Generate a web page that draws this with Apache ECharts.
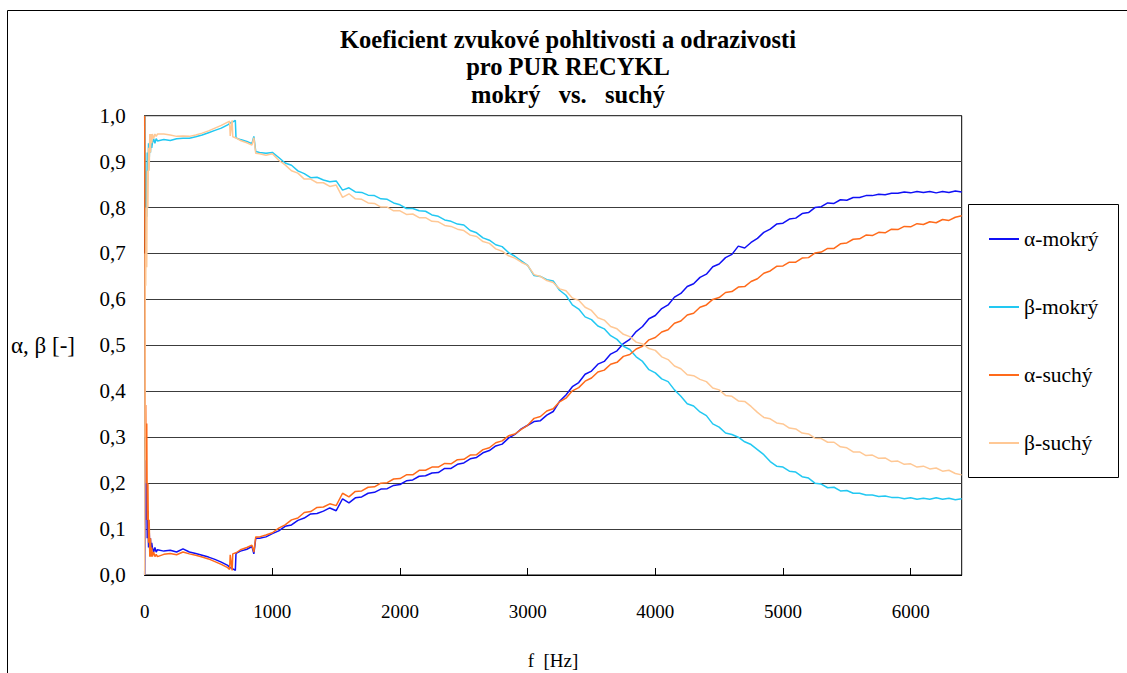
<!DOCTYPE html>
<html>
<head>
<meta charset="utf-8">
<script src="https://cdn.jsdelivr.net/npm/echarts@6/dist/echarts.min.js"></script>
<style>
  html, body { margin: 0; padding: 0; background: #fff; }
  #chart { width: 1127px; height: 673px; }
</style>
</head>
<body>
<div id="chart"></div>
<script>
// Frequency grid [Hz]
const freq = [
  0, 4, 8, 12, 16, 20, 25, 30, 35, 40, 45, 50, 55, 60, 70, 80, 90, 100,
  150, 200, 250, 300, 350, 400, 450, 500, 550, 600, 650,
  665, 670, 685, 690, 700, 710, 715, 720, 750, 800, 840, 855, 870, 900, 950, 1000,
  1050, 1100, 1150, 1200, 1250, 1300, 1350, 1400, 1450, 1500,
  1550, 1600, 1650, 1700, 1750, 1800, 1850, 1900, 1950, 2000,
  2050, 2100, 2150, 2200, 2250, 2300, 2350, 2400, 2450, 2500,
  2550, 2600, 2650, 2700, 2750, 2800, 2850, 2900, 2950, 3000,
  3050, 3100, 3150, 3200, 3250, 3300, 3350, 3400, 3450, 3500,
  3550, 3600, 3650, 3700, 3750, 3800, 3850, 3900, 3950, 4000,
  4050, 4100, 4150, 4200, 4250, 4300, 4350, 4400, 4450, 4500,
  4550, 4600, 4650, 4700, 4750, 4800, 4850, 4900, 4950, 5000,
  5050, 5100, 5150, 5200, 5250, 5300, 5350, 5400, 5450, 5500,
  5550, 5600, 5650, 5700, 5750, 5800, 5850, 5900, 5950, 6000,
  6050, 6100, 6150, 6200, 6250, 6300, 6350, 6400
];

// Absorption coefficient, wet sample
const alphaWet = [
  0.00, 0.18, 0.25, 0.12, 0.20, 0.08, 0.14, 0.06, 0.10, 0.05, 0.08, 0.05, 0.07, 0.06, 0.05, 0.06, 0.05, 0.055,
  0.052, 0.054, 0.050, 0.057, 0.050, 0.047, 0.043, 0.039, 0.034, 0.028, 0.021,
  0.017, 0.016, 0.014, 0.013, 0.012, 0.010, 0.046, 0.048, 0.052, 0.056, 0.062, 0.046, 0.080, 0.080, 0.083, 0.090,
  0.096, 0.106, 0.109, 0.119, 0.124, 0.133, 0.134, 0.139, 0.146, 0.140,
  0.166, 0.157, 0.168, 0.170, 0.178, 0.180, 0.187, 0.188, 0.195, 0.197,
  0.205, 0.207, 0.215, 0.216, 0.222, 0.223, 0.232, 0.232, 0.241, 0.244,
  0.253, 0.256, 0.266, 0.271, 0.281, 0.285, 0.298, 0.306, 0.318, 0.326,
  0.334, 0.336, 0.348, 0.356, 0.378, 0.392, 0.410, 0.419, 0.437, 0.444,
  0.459, 0.465, 0.481, 0.488, 0.504, 0.513, 0.530, 0.541, 0.558, 0.565,
  0.580, 0.588, 0.605, 0.613, 0.628, 0.634, 0.648, 0.655, 0.671, 0.677,
  0.691, 0.698, 0.716, 0.712, 0.724, 0.733, 0.746, 0.753, 0.764, 0.766,
  0.775, 0.777, 0.787, 0.789, 0.800, 0.802, 0.810, 0.809, 0.817, 0.816,
  0.822, 0.822, 0.826, 0.826, 0.829, 0.828, 0.831, 0.831, 0.834, 0.832,
  0.835, 0.833, 0.835, 0.832, 0.835, 0.833, 0.836, 0.834
];

// Reflection coefficient, wet sample
const betaWet = [
  1.00, 0.82, 0.70, 0.88, 0.78, 0.92, 0.86, 0.94, 0.90, 0.95, 0.92, 0.95, 0.93, 0.94, 0.95, 0.94, 0.95, 0.945,
  0.948, 0.946, 0.950, 0.951, 0.951, 0.954, 0.958, 0.963, 0.968, 0.973, 0.980,
  0.983, 0.984, 0.986, 0.987, 0.988, 0.990, 0.953, 0.951, 0.948, 0.944, 0.939, 0.955, 0.922, 0.920, 0.918, 0.920,
  0.909, 0.897, 0.892, 0.880, 0.874, 0.865, 0.866, 0.860, 0.856, 0.858,
  0.838, 0.843, 0.834, 0.833, 0.827, 0.826, 0.819, 0.818, 0.810, 0.806,
  0.798, 0.798, 0.793, 0.792, 0.784, 0.781, 0.773, 0.770, 0.764, 0.762,
  0.750, 0.745, 0.734, 0.729, 0.719, 0.715, 0.702, 0.694, 0.684, 0.674,
  0.652, 0.650, 0.643, 0.640, 0.620, 0.609, 0.588, 0.579, 0.562, 0.556,
  0.542, 0.536, 0.521, 0.513, 0.498, 0.491, 0.475, 0.465, 0.447, 0.440,
  0.427, 0.421, 0.403, 0.389, 0.373, 0.368, 0.355, 0.347, 0.329, 0.322,
  0.309, 0.306, 0.300, 0.290, 0.284, 0.273, 0.262, 0.247, 0.237, 0.235,
  0.226, 0.224, 0.214, 0.211, 0.200, 0.198, 0.190, 0.191, 0.183, 0.184,
  0.178, 0.178, 0.174, 0.174, 0.171, 0.172, 0.169, 0.169, 0.166, 0.168,
  0.165, 0.167, 0.165, 0.168, 0.165, 0.167, 0.164, 0.166
];

// Absorption coefficient, dry sample
const alphaDry = [
  1.00, 0.30, 0.37, 0.20, 0.33, 0.12, 0.20, 0.07, 0.12, 0.04, 0.08, 0.04, 0.06, 0.04, 0.05, 0.04, 0.045, 0.04,
  0.045, 0.047, 0.044, 0.050, 0.046, 0.043, 0.039, 0.035, 0.029, 0.023, 0.016,
  0.012, 0.044, 0.010, 0.046, 0.047, 0.048, 0.048, 0.049, 0.055, 0.060, 0.065, 0.050, 0.083, 0.083, 0.087, 0.092,
  0.102, 0.109, 0.120, 0.124, 0.136, 0.138, 0.147, 0.148, 0.155, 0.151,
  0.178, 0.170, 0.182, 0.183, 0.191, 0.192, 0.200, 0.201, 0.209, 0.210,
  0.218, 0.218, 0.228, 0.228, 0.235, 0.235, 0.243, 0.242, 0.251, 0.252,
  0.261, 0.262, 0.273, 0.277, 0.288, 0.292, 0.303, 0.307, 0.317, 0.326,
  0.341, 0.345, 0.357, 0.362, 0.377, 0.385, 0.401, 0.408, 0.422, 0.429,
  0.442, 0.446, 0.459, 0.463, 0.476, 0.480, 0.492, 0.498, 0.512, 0.517,
  0.529, 0.534, 0.548, 0.553, 0.566, 0.570, 0.583, 0.588, 0.600, 0.604,
  0.615, 0.617, 0.627, 0.628, 0.639, 0.645, 0.657, 0.662, 0.672, 0.673,
  0.681, 0.681, 0.690, 0.691, 0.701, 0.703, 0.711, 0.711, 0.721, 0.723,
  0.731, 0.732, 0.740, 0.739, 0.746, 0.745, 0.753, 0.752, 0.759, 0.758,
  0.765, 0.763, 0.769, 0.767, 0.774, 0.772, 0.779, 0.782
];

// Reflection coefficient, dry sample
const betaDry = [
  0.00, 0.70, 0.63, 0.80, 0.67, 0.88, 0.80, 0.93, 0.88, 0.96, 0.92, 0.96, 0.94, 0.96, 0.95, 0.96, 0.955, 0.96,
  0.960, 0.958, 0.955, 0.956, 0.955, 0.958, 0.962, 0.967, 0.973, 0.979, 0.986,
  0.988, 0.956, 0.990, 0.954, 0.953, 0.952, 0.952, 0.951, 0.946, 0.941, 0.936, 0.952, 0.918, 0.917, 0.914, 0.917,
  0.903, 0.893, 0.880, 0.875, 0.862, 0.862, 0.854, 0.854, 0.846, 0.849,
  0.822, 0.830, 0.819, 0.818, 0.810, 0.809, 0.801, 0.801, 0.793, 0.793,
  0.785, 0.786, 0.778, 0.778, 0.770, 0.769, 0.761, 0.759, 0.753, 0.750,
  0.740, 0.737, 0.726, 0.722, 0.710, 0.705, 0.695, 0.690, 0.681, 0.674,
  0.654, 0.650, 0.641, 0.637, 0.623, 0.619, 0.603, 0.598, 0.583, 0.576,
  0.560, 0.555, 0.541, 0.536, 0.524, 0.519, 0.507, 0.503, 0.493, 0.489,
  0.475, 0.469, 0.455, 0.449, 0.436, 0.434, 0.426, 0.421, 0.407, 0.403,
  0.391, 0.389, 0.379, 0.378, 0.367, 0.354, 0.343, 0.340, 0.331, 0.329,
  0.320, 0.318, 0.309, 0.307, 0.298, 0.297, 0.289, 0.289, 0.279, 0.277,
  0.268, 0.268, 0.260, 0.261, 0.254, 0.255, 0.247, 0.248, 0.241, 0.242,
  0.235, 0.237, 0.231, 0.233, 0.226, 0.228, 0.221, 0.218
];

const seriesNames = ['α-mokrý', 'β-mokrý', 'α-suchý', 'β-suchý'];
const seriesValues = [alphaWet, betaWet, alphaDry, betaDry];
const seriesColors = ['#1010F5', '#22C8F2', '#FF6A1A', '#FFC895'];

const titleLines = ['Koeficient zvukové pohltivosti a odrazivosti', 'pro PUR RECYKL', 'mokrý   vs.   suchý'];
const xAxisTitle = 'f  [Hz]';
const yAxisTitle = 'α, β [-]';

const FONT = '"Liberation Serif", "Times New Roman", serif';

function toPairs(values) {
  return freq.map((f, i) => [f, values[i]]);
}

const chart = echarts.init(document.getElementById('chart'), null, { renderer: 'svg' });

const titleGraphics = titleLines.map((line, i) => ({
  type: 'text',
  x: 568,
  y: 39 + i * 27.5,
  style: {
    text: line,
    fill: '#000',
    font: 'bold 24.5px ' + FONT,
    textAlign: 'center',
    textVerticalAlign: 'middle'
  }
}));

const option = {
  animation: false,
  backgroundColor: '#fff',
  grid: {
    left: 144.7,
    right: 165.3,
    top: 115.7,
    bottom: 98,
    show: true,
    borderColor: '#000',
    borderWidth: 1,
    backgroundColor: 'transparent'
  },
  xAxis: {
    type: 'value',
    min: 0,
    max: 6400,
    interval: 1000,
    axisLine: { lineStyle: { color: '#000', width: 1 } },
    axisTick: { inside: true, length: 7, lineStyle: { color: '#000' } },
    axisLabel: {
      margin: 27,
      color: '#000',
      fontFamily: FONT,
      fontSize: 19,
      showMaxLabel: false,
      formatter: v => (v % 1000 === 0 ? String(v) : '')
    },
    splitLine: { show: false }
  },
  yAxis: {
    type: 'value',
    min: 0,
    max: 1,
    interval: 0.1,
    axisLine: { show: true, lineStyle: { color: '#000', width: 1 } },
    axisTick: { show: false },
    axisLabel: {
      margin: 19,
      color: '#000',
      fontFamily: FONT,
      fontSize: 21,
      formatter: v => v.toFixed(1).replace('.', ',')
    },
    splitLine: { lineStyle: { color: '#3c3c3c', width: 1 } }
  },
  legend: {
    orient: 'vertical',
    left: 989,
    top: 228,
    padding: 0,
    icon: 'rect',
    itemWidth: 30,
    itemHeight: 2,
    itemGap: 46,
    textStyle: { color: '#000', fontFamily: FONT, fontSize: 21.5, lineHeight: 22 },
    data: seriesNames
  },
  series: seriesNames.map((name, i) => ({
    name: name,
    type: 'line',
    data: toPairs(seriesValues[i]),
    symbol: 'none',
    showSymbol: false,
    clip: true,
    color: seriesColors[i],
    lineStyle: { color: seriesColors[i], width: 1.5 },
    z: 2 + i
  })),
  graphic: [
    {
      // outer chart frame (right and bottom edges run off the page)
      type: 'rect',
      shape: { x: 7.5, y: 10.5, width: 1130, height: 700 },
      style: { fill: 'none', stroke: '#000', lineWidth: 1 },
      silent: true,
      z: -10
    },
    {
      type: 'rect',
      shape: { x: 968.5, y: 204.5, width: 150, height: 273 },
      style: { fill: '#fff', stroke: '#000', lineWidth: 1 },
      silent: true,
      z: -5
    },
    ...titleGraphics,
    {
      type: 'text',
      x: 553,
      y: 660,
      style: { text: xAxisTitle, fill: '#000', font: '19px ' + FONT, textAlign: 'center', textVerticalAlign: 'middle' }
    },
    {
      type: 'text',
      x: 11,
      y: 345,
      style: { text: yAxisTitle, fill: '#000', font: '23px ' + FONT, textAlign: 'left', textVerticalAlign: 'middle' }
    }
  ]
};

chart.setOption(option);
</script>
</body>
</html>
